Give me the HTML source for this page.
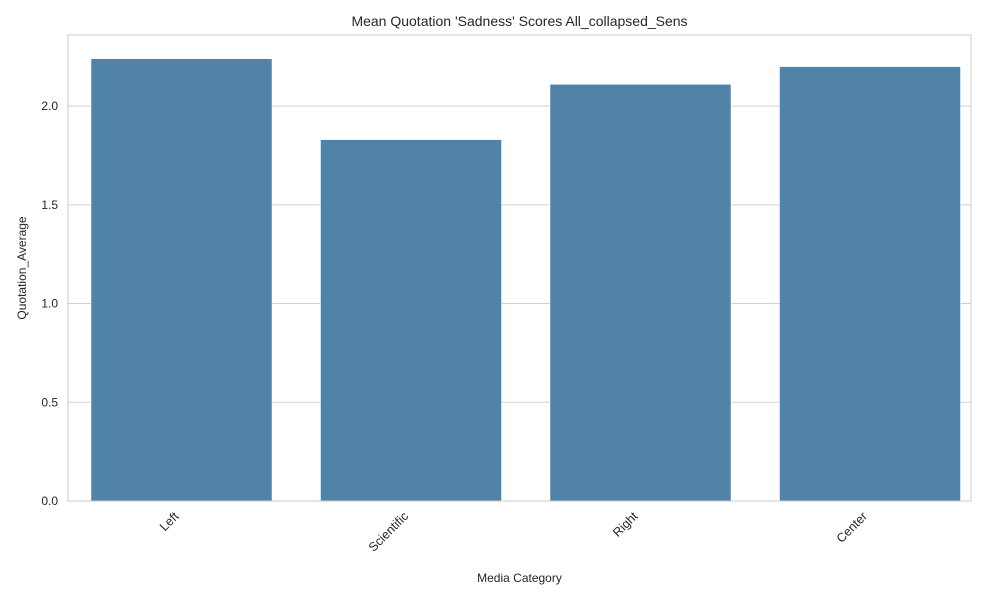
<!DOCTYPE html>
<html><head><meta charset="utf-8"><style>
body{margin:0;background:#fff;font-family:"Liberation Sans","DejaVu Sans",sans-serif;}
</style></head><body>
<svg id="chart" width="1000" height="600" xmlns="http://www.w3.org/2000/svg"></svg>
<script>
const categories = ["Left","Scientific","Right","Center"];
const values = [2.24,1.83,2.11,2.20];
const yTicks = [0,0.5,1.0,1.5,2.0];
const yTickLabels = ["0.0","0.5","1.0","1.5","2.0"];

const L=68,R=971,T=35,B=501,yMax=2.36;
const xStart=66.75,band=229.5,barW=181;
const svg=document.getElementById('chart');
const NS="http://www.w3.org/2000/svg";
const y=v=>B-(v/yMax)*(B-T);
const xc=i=>xStart+band*(i+0.5);
function mk(tag,attrs,text){const e=document.createElementNS(NS,tag);for(const k in attrs)e.setAttribute(k,attrs[k]);if(text!==undefined)e.textContent=text;svg.appendChild(e);return e;}

yTicks.forEach((t,i)=>{
  const g=mk('line',{x1:L,x2:R,y1:y(t),y2:y(t),stroke:'#d0d0d0','stroke-width':1});
  
  
  const lb=mk('text',{x:L-10,y:y(t)+4,'text-anchor':'end','font-size':12,fill:'#262626'},yTickLabels[i]);
  
  
});
categories.forEach((c,i)=>{
  const r=mk('rect',{x:xc(i)-barW/2,y:y(values[i]),width:barW,height:B-y(values[i]),fill:'#5182a8',stroke:'#ffffff','stroke-width':0.5});
  
  
  const cx=xc(i);
  const t=mk('text',{x:cx-2,y:B+16,'text-anchor':'end','font-size':12.5,fill:'#262626',transform:`rotate(-45 ${cx-2} ${B+16})`},c);
  
  
});
const fr=mk('rect',{x:L,y:T,width:R-L,height:B-T,fill:'none',stroke:'#cccccc','stroke-width':1});


const ti=mk('text',{x:(L+R)/2,y:26,'text-anchor':'middle','font-size':14,fill:'#262626'},"Mean Quotation 'Sadness' Scores All_collapsed_Sens");


const xt=mk('text',{x:(L+R)/2,y:582,'text-anchor':'middle','font-size':12,fill:'#262626'},"Media Category");


const yt=mk('text',{x:26,y:(T+B)/2,'text-anchor':'middle','font-size':12,fill:'#262626',transform:`rotate(-90 26 ${(T+B)/2})`},"Quotation_Average");


</script>
</body></html>
